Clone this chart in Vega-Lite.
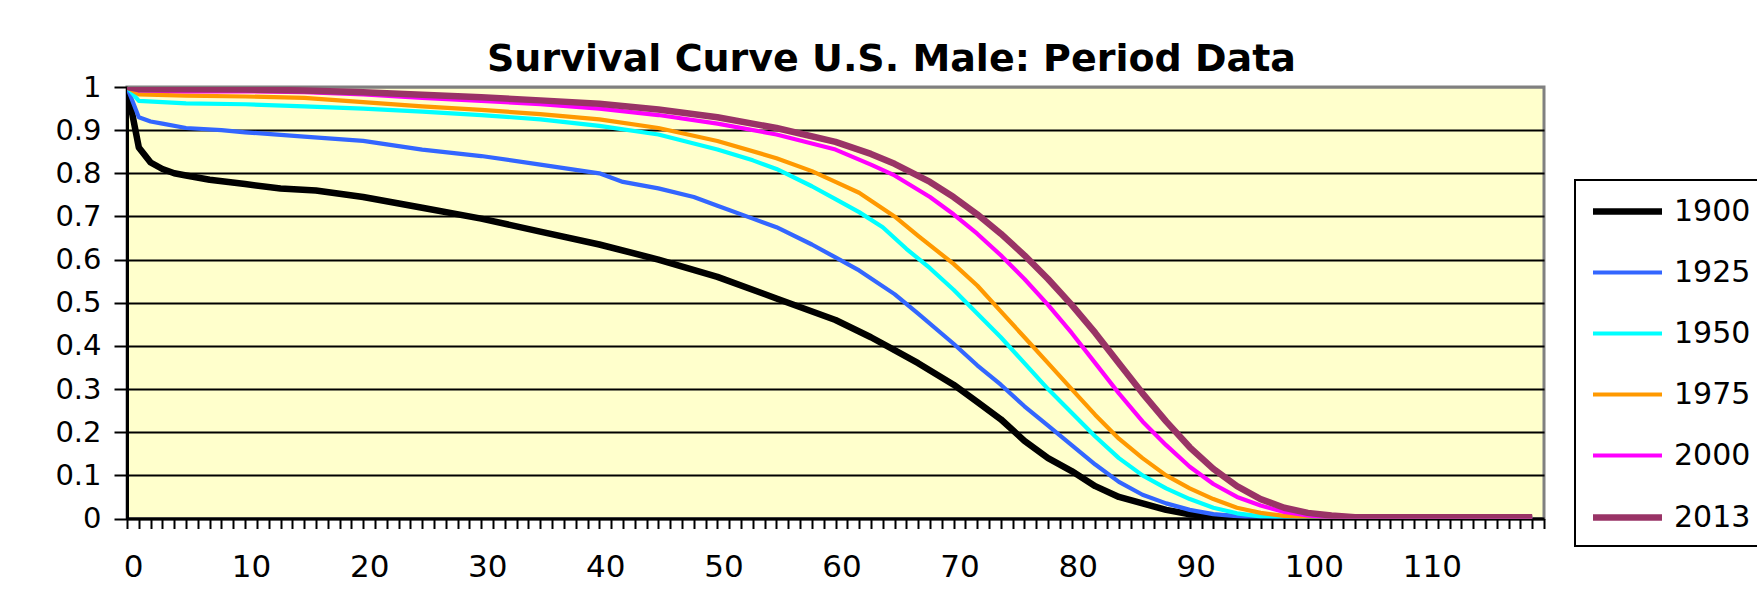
{
  "$schema": "https://vega.github.io/schema/vega-lite/v6.json",
  "width": 1417,
  "height": 431.5,
  "autosize": {"type": "none"},
  "padding": {"left": 127, "top": 87, "right": 213, "bottom": 96},
  "background": "white",
  "title": {"text": "Survival Curve U.S. Male: Period Data", "anchor": "middle", "dx": 56, "dy": 12, "offset": 6, "fontSize": 38, "fontWeight": "bold", "font": "DejaVu Sans", "color": "black"},
  "data": {"values": [
    {"age":0,"year":"1900","s":1},{"age":1,"year":"1900","s":0.86},{"age":2,"year":"1900","s":0.825},{"age":3,"year":"1900","s":0.81},{"age":4,"year":"1900","s":0.8},{"age":5,"year":"1900","s":0.795},{"age":7,"year":"1900","s":0.785},{"age":10,"year":"1900","s":0.775},{"age":13,"year":"1900","s":0.765},{"age":16,"year":"1900","s":0.76},{"age":20,"year":"1900","s":0.745},{"age":25,"year":"1900","s":0.72},{"age":30,"year":"1900","s":0.695},{"age":35,"year":"1900","s":0.665},{"age":40,"year":"1900","s":0.635},{"age":45,"year":"1900","s":0.6},{"age":50,"year":"1900","s":0.56},{"age":55,"year":"1900","s":0.51},{"age":60,"year":"1900","s":0.46},{"age":63,"year":"1900","s":0.42},{"age":65,"year":"1900","s":0.39},{"age":67,"year":"1900","s":0.36},{"age":70,"year":"1900","s":0.31},{"age":72,"year":"1900","s":0.27},{"age":74,"year":"1900","s":0.23},{"age":76,"year":"1900","s":0.18},{"age":78,"year":"1900","s":0.14},{"age":80,"year":"1900","s":0.11},{"age":82,"year":"1900","s":0.075},{"age":84,"year":"1900","s":0.05},{"age":86,"year":"1900","s":0.035},{"age":88,"year":"1900","s":0.02},{"age":90,"year":"1900","s":0.01},{"age":92,"year":"1900","s":0.005},{"age":95,"year":"1900","s":0.001},{"age":100,"year":"1900","s":0},{"age":119,"year":"1900","s":0},
    {"age":0,"year":"1925","s":1},{"age":1,"year":"1925","s":0.93},{"age":2,"year":"1925","s":0.92},{"age":3,"year":"1925","s":0.915},{"age":5,"year":"1925","s":0.905},{"age":8,"year":"1925","s":0.9},{"age":10,"year":"1925","s":0.895},{"age":15,"year":"1925","s":0.885},{"age":20,"year":"1925","s":0.875},{"age":25,"year":"1925","s":0.855},{"age":30,"year":"1925","s":0.84},{"age":35,"year":"1925","s":0.82},{"age":40,"year":"1925","s":0.8},{"age":42,"year":"1925","s":0.78},{"age":45,"year":"1925","s":0.765},{"age":48,"year":"1925","s":0.745},{"age":50,"year":"1925","s":0.725},{"age":53,"year":"1925","s":0.695},{"age":55,"year":"1925","s":0.675},{"age":58,"year":"1925","s":0.635},{"age":60,"year":"1925","s":0.605},{"age":62,"year":"1925","s":0.575},{"age":65,"year":"1925","s":0.52},{"age":67,"year":"1925","s":0.475},{"age":70,"year":"1925","s":0.405},{"age":72,"year":"1925","s":0.355},{"age":74,"year":"1925","s":0.31},{"age":76,"year":"1925","s":0.26},{"age":78,"year":"1925","s":0.215},{"age":80,"year":"1925","s":0.17},{"age":82,"year":"1925","s":0.125},{"age":84,"year":"1925","s":0.085},{"age":86,"year":"1925","s":0.055},{"age":88,"year":"1925","s":0.035},{"age":90,"year":"1925","s":0.02},{"age":92,"year":"1925","s":0.01},{"age":95,"year":"1925","s":0.003},{"age":100,"year":"1925","s":0},{"age":119,"year":"1925","s":0},
    {"age":0,"year":"1950","s":1},{"age":1,"year":"1950","s":0.968},{"age":3,"year":"1950","s":0.965},{"age":5,"year":"1950","s":0.962},{"age":10,"year":"1950","s":0.96},{"age":15,"year":"1950","s":0.955},{"age":20,"year":"1950","s":0.95},{"age":25,"year":"1950","s":0.943},{"age":30,"year":"1950","s":0.935},{"age":35,"year":"1950","s":0.925},{"age":40,"year":"1950","s":0.91},{"age":45,"year":"1950","s":0.89},{"age":50,"year":"1950","s":0.855},{"age":53,"year":"1950","s":0.83},{"age":55,"year":"1950","s":0.81},{"age":58,"year":"1950","s":0.77},{"age":60,"year":"1950","s":0.74},{"age":62,"year":"1950","s":0.71},{"age":64,"year":"1950","s":0.675},{"age":66,"year":"1950","s":0.625},{"age":68,"year":"1950","s":0.58},{"age":70,"year":"1950","s":0.53},{"age":72,"year":"1950","s":0.475},{"age":74,"year":"1950","s":0.42},{"age":76,"year":"1950","s":0.36},{"age":78,"year":"1950","s":0.3},{"age":80,"year":"1950","s":0.245},{"age":82,"year":"1950","s":0.19},{"age":84,"year":"1950","s":0.14},{"age":86,"year":"1950","s":0.1},{"age":88,"year":"1950","s":0.07},{"age":90,"year":"1950","s":0.045},{"age":92,"year":"1950","s":0.025},{"age":94,"year":"1950","s":0.012},{"age":96,"year":"1950","s":0.005},{"age":100,"year":"1950","s":0.001},{"age":119,"year":"1950","s":0},
    {"age":0,"year":"1975","s":1},{"age":1,"year":"1975","s":0.983},{"age":5,"year":"1975","s":0.98},{"age":10,"year":"1975","s":0.978},{"age":15,"year":"1975","s":0.975},{"age":20,"year":"1975","s":0.965},{"age":25,"year":"1975","s":0.955},{"age":30,"year":"1975","s":0.947},{"age":35,"year":"1975","s":0.937},{"age":40,"year":"1975","s":0.925},{"age":45,"year":"1975","s":0.905},{"age":50,"year":"1975","s":0.875},{"age":55,"year":"1975","s":0.835},{"age":58,"year":"1975","s":0.805},{"age":60,"year":"1975","s":0.78},{"age":62,"year":"1975","s":0.755},{"age":65,"year":"1975","s":0.7},{"age":67,"year":"1975","s":0.655},{"age":70,"year":"1975","s":0.59},{"age":72,"year":"1975","s":0.54},{"age":74,"year":"1975","s":0.48},{"age":76,"year":"1975","s":0.42},{"age":78,"year":"1975","s":0.36},{"age":80,"year":"1975","s":0.3},{"age":82,"year":"1975","s":0.24},{"age":84,"year":"1975","s":0.185},{"age":86,"year":"1975","s":0.14},{"age":88,"year":"1975","s":0.1},{"age":90,"year":"1975","s":0.07},{"age":92,"year":"1975","s":0.045},{"age":94,"year":"1975","s":0.025},{"age":96,"year":"1975","s":0.013},{"age":98,"year":"1975","s":0.006},{"age":100,"year":"1975","s":0.002},{"age":119,"year":"1975","s":0},
    {"age":0,"year":"2000","s":1},{"age":1,"year":"2000","s":0.992},{"age":5,"year":"2000","s":0.99},{"age":10,"year":"2000","s":0.99},{"age":15,"year":"2000","s":0.988},{"age":20,"year":"2000","s":0.983},{"age":25,"year":"2000","s":0.975},{"age":30,"year":"2000","s":0.968},{"age":35,"year":"2000","s":0.96},{"age":40,"year":"2000","s":0.95},{"age":45,"year":"2000","s":0.935},{"age":50,"year":"2000","s":0.915},{"age":55,"year":"2000","s":0.89},{"age":60,"year":"2000","s":0.855},{"age":63,"year":"2000","s":0.82},{"age":65,"year":"2000","s":0.795},{"age":68,"year":"2000","s":0.745},{"age":70,"year":"2000","s":0.705},{"age":72,"year":"2000","s":0.66},{"age":74,"year":"2000","s":0.61},{"age":76,"year":"2000","s":0.555},{"age":78,"year":"2000","s":0.495},{"age":80,"year":"2000","s":0.43},{"age":82,"year":"2000","s":0.36},{"age":84,"year":"2000","s":0.29},{"age":86,"year":"2000","s":0.225},{"age":88,"year":"2000","s":0.17},{"age":90,"year":"2000","s":0.12},{"age":92,"year":"2000","s":0.08},{"age":94,"year":"2000","s":0.05},{"age":96,"year":"2000","s":0.03},{"age":98,"year":"2000","s":0.015},{"age":100,"year":"2000","s":0.007},{"age":102,"year":"2000","s":0.002},{"age":119,"year":"2000","s":0},
    {"age":0,"year":"2013","s":1},{"age":1,"year":"2013","s":0.995},{"age":5,"year":"2013","s":0.995},{"age":10,"year":"2013","s":0.994},{"age":15,"year":"2013","s":0.992},{"age":20,"year":"2013","s":0.988},{"age":25,"year":"2013","s":0.982},{"age":30,"year":"2013","s":0.976},{"age":35,"year":"2013","s":0.969},{"age":40,"year":"2013","s":0.961},{"age":45,"year":"2013","s":0.948},{"age":50,"year":"2013","s":0.93},{"age":55,"year":"2013","s":0.905},{"age":60,"year":"2013","s":0.873},{"age":63,"year":"2013","s":0.845},{"age":65,"year":"2013","s":0.822},{"age":68,"year":"2013","s":0.78},{"age":70,"year":"2013","s":0.745},{"age":72,"year":"2013","s":0.705},{"age":74,"year":"2013","s":0.66},{"age":76,"year":"2013","s":0.61},{"age":78,"year":"2013","s":0.555},{"age":80,"year":"2013","s":0.495},{"age":82,"year":"2013","s":0.43},{"age":84,"year":"2013","s":0.36},{"age":86,"year":"2013","s":0.29},{"age":88,"year":"2013","s":0.225},{"age":90,"year":"2013","s":0.165},{"age":92,"year":"2013","s":0.115},{"age":94,"year":"2013","s":0.075},{"age":96,"year":"2013","s":0.045},{"age":98,"year":"2013","s":0.025},{"age":100,"year":"2013","s":0.013},{"age":102,"year":"2013","s":0.007},{"age":104,"year":"2013","s":0.003},{"age":119,"year":"2013","s":0.003}
  ]},
  "mark": {"type": "line", "strokeJoin": "round", "clip": true},
  "encoding": {
    "x": {"field": "age", "type": "quantitative",
      "scale": {"domain": [0, 120], "nice": false, "zero": false},
      "axis": {"title": null, "values": [0,1,2,3,4,5,6,7,8,9,10,11,12,13,14,15,16,17,18,19,20,21,22,23,24,25,26,27,28,29,30,31,32,33,34,35,36,37,38,39,40,41,42,43,44,45,46,47,48,49,50,51,52,53,54,55,56,57,58,59,60,61,62,63,64,65,66,67,68,69,70,71,72,73,74,75,76,77,78,79,80,81,82,83,84,85,86,87,88,89,90,91,92,93,94,95,96,97,98,99,100,101,102,103,104,105,106,107,108,109,110,111,112,113,114,115,116,117,118,119,120],
        "labelExpr": "(datum.value % 10 == 0 && datum.value < 120) ? datum.label : ''",
        "labelOffset": 6, "labelOverlap": false, "labelBound": false, "labelFlush": false,
        "labelBaseline": "alphabetic", "labelPadding": 48, "labelFontSize": 31, "labelFont": "DejaVu Sans", "labelColor": "black",
        "tickSize": 10, "tickWidth": 2, "tickColor": "black", "domainColor": "black", "domainWidth": 3, "grid": false}},
    "y": {"field": "s", "type": "quantitative",
      "scale": {"domain": [0, 1], "nice": false},
      "axis": {"title": null, "values": [0,0.1,0.2,0.3,0.4,0.5,0.6,0.7,0.8,0.9,1], "format": ".1~f",
        "labelFontSize": 29, "labelFont": "DejaVu Sans", "labelColor": "black", "labelPadding": 13, "labelOverlap": false, "labelBound": false, "labelFlush": false,
        "tickSize": 13, "tickWidth": 2, "tickColor": "black", "domainColor": "black", "domainWidth": 3,
        "grid": true, "gridWidth": 2, "gridOpacity": 1,
        "gridColor": {"condition": {"test": "datum.value >= 1 || datum.value <= 0", "value": "#808080"}, "value": "black"}}},
    "color": {"field": "year", "type": "nominal",
      "scale": {"domain": ["1900","1925","1950","1975","2000","2013"], "range": ["#000000","#3366FF","#00FFFF","#FF9900","#FF00FF","#993366"]},
      "legend": {"title": null}},
    "strokeWidth": {"field": "year", "type": "nominal",
      "scale": {"type": "ordinal", "domain": ["1900","1925","1950","1975","2000","2013"], "range": [6.5,4.2,4.2,4.2,4.2,6.5]},
      "legend": {"title": null}}
  },
  "config": {
    "font": "DejaVu Sans",
    "view": {"fill": "#FFFFCC", "stroke": "#808080", "strokeWidth": 3},
    "legend": {"orient": "none", "legendX": 1448, "legendY": 93, "symbolType": "M-2.3,0H2.3", "symbolSize": 900,
      "symbolOffset": 21, "labelOffset": 28, "padding": 13, "rowPadding": 28, "labelFontSize": 30, "labelFont": "DejaVu Sans", "labelColor": "black",
      "strokeColor": "black", "strokeWidth": 2, "symbolFillColor": "transparent"}
  }
}
